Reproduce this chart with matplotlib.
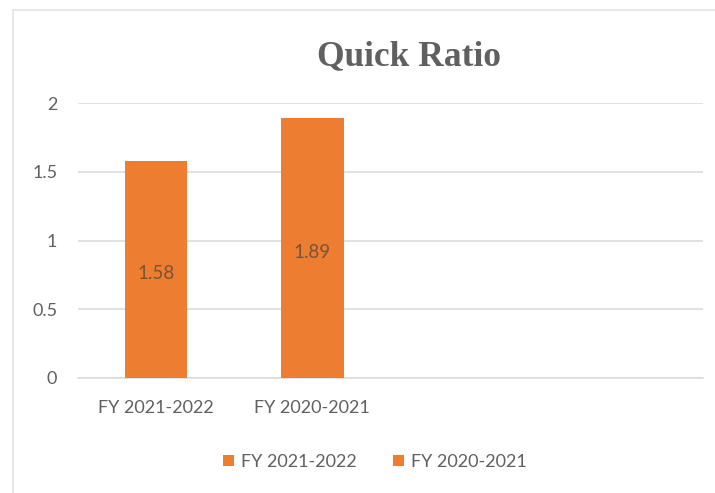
import matplotlib.pyplot as plt
from matplotlib.patches import Patch, Rectangle
import numpy as np

# Quick ratio per fiscal year
years = ["FY 2021-2022", "FY 2020-2021"]
quick_ratio = [1.58, 1.89]
n_slots = 4  # category slots on the axis; only the first two hold data

BAR_COLOR = "#ED7D31"
TEXT_GRAY = "#606060"
GRID_GRAY = "#D9D9D9"

plt.rcParams["font.family"] = ["Lato", "DejaVu Sans"]

fig = plt.figure(figsize=(7.15, 4.93), dpi=100)
ax = fig.add_axes([78 / 715, 115.3 / 493, 625 / 715, 274.4 / 493])

# chart frame
fig.patches.append(Rectangle((13 / 715, -0.1), 1.2, (493 - 10) / 493 + 0.1,
                             transform=fig.transFigure, fill=False,
                             edgecolor="#E3E3E3", linewidth=1.2, zorder=0))

x = np.arange(len(quick_ratio))
bars = ax.bar(x, quick_ratio, width=0.4, color=BAR_COLOR, zorder=3)
ax.bar_label(bars, labels=[f"{v:.2f}" for v in quick_ratio], label_type="center",
             color="#7A5436", fontsize=13.5, padding=-3)

ax.set_xlim(-0.5, n_slots - 0.5)
ax.set_ylim(0, 2)
ax.set_yticks([0, 0.5, 1, 1.5, 2])
ax.set_yticklabels(["0", "0.5", "1", "1.5", "2"])
ax.set_xticks(x)
ax.set_xticklabels(years)
ax.tick_params(axis="both", length=0, colors=TEXT_GRAY, labelsize=13)
ax.tick_params(axis="y", pad=15)
ax.tick_params(axis="x", pad=16)

ax.yaxis.grid(True, color=GRID_GRAY, linewidth=1.1)
ax.set_axisbelow(True)
for side in ["top", "right", "left"]:
    ax.spines[side].set_visible(False)
ax.spines["bottom"].set_color(GRID_GRAY)
ax.spines["bottom"].set_linewidth(1.1)

fig.text(409 / 715, 1 - 57 / 493, "Quick Ratio", ha="center", va="center",
         fontsize=25.5, fontweight="bold", color=TEXT_GRAY,
         family=["Liberation Serif", "DejaVu Serif"])

handles = [Patch(facecolor=BAR_COLOR, edgecolor="none", label=y) for y in years]
fig.legend(handles=handles, loc="center", bbox_to_anchor=(375 / 715, 1 - 462 / 493),
           ncol=2, frameon=False, fontsize=13, labelcolor=TEXT_GRAY,
           handlelength=0.6, handleheight=0.6, handletextpad=0.4, columnspacing=2.0)

fig.savefig("out.png", dpi=100, facecolor="white")
